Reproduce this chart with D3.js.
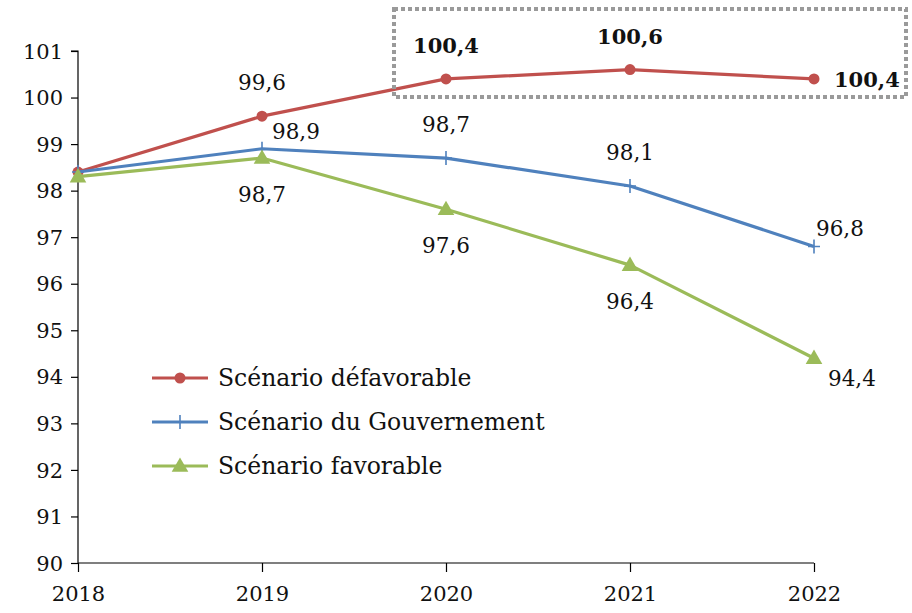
<!DOCTYPE html>
<html>
<head>
<meta charset="utf-8">
<script src="https://cdn.jsdelivr.net/npm/d3@7"></script>
<style>
  html, body { margin: 0; padding: 0; background: #fff; }
  svg text { font-family: "DejaVu Serif", "Liberation Serif", serif; fill: #111; }
</style>
</head>
<body>
<svg id="chart" width="912" height="613"></svg>
<script>
// Years on the horizontal axis
const years = [2018, 2019, 2020, 2021, 2022];
// Index values per scenario
const defavorable = [98.4, 99.6, 100.4, 100.6, 100.4];
const gouvernement = [98.4, 98.9, 98.7, 98.1, 96.8];
const favorable = [98.3, 98.7, 97.6, 96.4, 94.4];
// Series names shown in the legend
const seriesNames = ["Scénario défavorable", "Scénario du Gouvernement", "Scénario favorable"];
// Y axis ticks
const yTicks = [90, 91, 92, 93, 94, 95, 96, 97, 98, 99, 100, 101];

const fmt = v => String(v).replace(".", ",");

const svg = d3.select("#chart");
const x = d3.scalePoint().domain(years).range([78, 814]);
const y = d3.scaleLinear().domain([90, 101]).range([563, 51]);

const fontSize = 21;
const legendFontSize = 23.5;
const fontFamily = "DejaVu Serif";

// Y axis
const yAxis = svg.append("g").attr("transform", "translate(78,0)")
  .call(d3.axisLeft(y).tickValues(yTicks).tickSize(7).tickPadding(8).tickFormat(d3.format("d")));
yAxis.select(".domain").attr("stroke", "#000").attr("stroke-width", 1.2).attr("d", `M-7,${y(101)}H0V${y(90)}`);
yAxis.selectAll(".tick line").attr("stroke", "#000").attr("stroke-width", 1.2);
yAxis.selectAll(".tick text").attr("font-size", fontSize).attr("dy", "0.34em")
  .style("font-family", fontFamily).attr("fill", "#111");

// X axis
const xAxis = svg.append("g").attr("transform", `translate(0,${y(90)})`)
  .call(d3.axisBottom(x).tickSize(9).tickPadding(14));
xAxis.select(".domain").attr("stroke", "#000").attr("stroke-width", 1.2).attr("d", `M78,0H814`);
xAxis.selectAll(".tick line").attr("stroke", "#000").attr("stroke-width", 1.2);
xAxis.selectAll(".tick text").attr("font-size", fontSize).attr("dy", "0.71em")
  .style("font-family", fontFamily).attr("fill", "#111");

const series = [
  { name: seriesNames[0], values: defavorable, color: "#C0504D", marker: "circle", bold: [false, false, true, true, true],
    place: ["none", "above", "above", "above", "right"] },
  { name: seriesNames[1], values: gouvernement, color: "#4F81BD", marker: "plus", bold: [false, false, false, false, false],
    place: ["none", "aboveRight", "above", "above", "aboveRight"] },
  { name: seriesNames[2], values: favorable, color: "#9BBB59", marker: "triangle", bold: [false, false, false, false, false],
    place: ["none", "below", "below", "below", "belowRight"] }
];

const line = d3.line().x((d, i) => x(years[i])).y(d => y(d));

function drawMarker(g, type, cx, cy, color) {
  if (type === "circle") {
    g.append("circle").attr("cx", cx).attr("cy", cy).attr("r", 5.5).attr("fill", color);
  } else if (type === "plus") {
    g.append("path").attr("d", `M${cx - 6},${cy}H${cx + 6}M${cx},${cy - 7}V${cy + 7}`)
      .attr("stroke", color).attr("stroke-width", 1.6);
  } else {
    g.append("path").attr("d", d3.symbol().type(d3.symbolTriangle).size(120)())
      .attr("transform", `translate(${cx},${cy + 1})`).attr("fill", color);
  }
}

// Lines with markers, favourable scenario drawn last
series.forEach(s => {
  const g = svg.append("g");
  g.append("path").datum(s.values).attr("d", line).attr("fill", "none")
    .attr("stroke", s.color).attr("stroke-width", 3.2).attr("stroke-linejoin", "round");
  s.values.forEach((v, i) => drawMarker(g, s.marker, x(years[i]), y(v), s.color));
});

// Data labels
series.forEach(s => {
  s.values.forEach((v, i) => {
    const p = s.place[i];
    if (p === "none") return;
    const px = x(years[i]), py = y(v);
    let tx = px, ty = py, anchor = "middle";
    if (p === "above") { ty = py - 26; }
    else if (p === "below") { ty = py + 44; }
    else if (p === "right") { tx = px + 20; ty = py + 8; anchor = "start"; }
    else if (p === "aboveRight") { tx = px + (i === 4 ? 2 : 10); ty = py - 10; anchor = "start"; }
    else if (p === "belowRight") { tx = px + 14; ty = py + 28; anchor = "start"; }
    svg.append("text").attr("x", tx).attr("y", ty).attr("text-anchor", anchor)
      .attr("font-size", s.bold[i] ? fontSize : fontSize + 0.5)
      .attr("font-weight", s.bold[i] ? "bold" : "normal")
      .text(fmt(v));
  });
});

// Highlight frame around the unfavourable peak
svg.append("rect").attr("x", 394).attr("y", 9).attr("width", 512).attr("height", 88)
  .attr("fill", "none").attr("stroke", "#9a9a9a").attr("stroke-width", 4)
  .attr("stroke-dasharray", "4,3");

// Legend
const legend = svg.append("g");
series.forEach((s, i) => {
  const ly = 378 + i * 44;
  legend.append("line").attr("x1", 152).attr("x2", 208).attr("y1", ly).attr("y2", ly)
    .attr("stroke", s.color).attr("stroke-width", 3.2);
  drawMarker(legend, s.marker, 180, ly, s.color);
  legend.append("text").attr("x", 218).attr("y", ly + 8).attr("font-size", legendFontSize).text(s.name);
});
</script>
</body>
</html>
